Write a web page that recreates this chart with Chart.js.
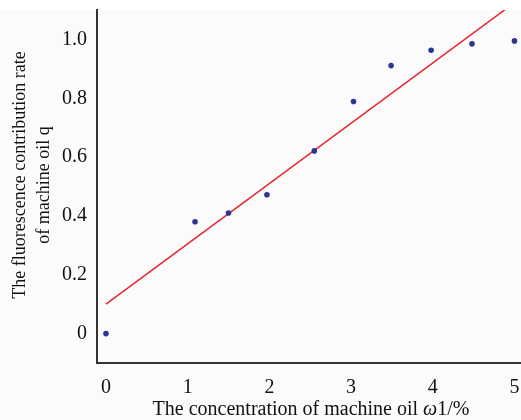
<!DOCTYPE html>
<html>
<head>
<meta charset="utf-8">
<script src="https://cdn.jsdelivr.net/npm/chart.js@4/dist/chart.umd.min.js"></script>
<style>
html,body{margin:0;padding:0;background:#fff;}
#wrap{width:521px;height:420px;position:relative;}
</style>
</head>
<body>
<div id="wrap"><canvas id="c" width="521" height="420"></canvas></div>
<script>
const concentration = [0, 1.09, 1.50, 1.97, 2.55, 3.03, 3.49, 3.98, 4.48, 5.00];
const contributionRate = [0.00, 0.38, 0.41, 0.472, 0.621, 0.789, 0.911, 0.963, 0.985, 0.995];
const fitX = [0, 5];
const fitY = [0.10, 1.125];
const xTicks = [0, 1, 2, 3, 4, 5];
const yTicks = [0, 0.2, 0.4, 0.6, 0.8, 1.0];
const yTitle = ['The fluorescence contribution rate', 'of machine oil q'];
const xTitleParts = ['The concentration of machine oil ', '\u03C9', '1/%'];

const serif = '"Liberation Serif", "Times New Roman", serif';

const bgPlugin = {
  id: 'bg',
  beforeDraw(chart) {
    const ctx = chart.ctx;
    ctx.save();
    ctx.fillStyle = '#fbfbfb';
    ctx.fillRect(0, 10, chart.width, chart.height - 10);
    ctx.restore();
  }
};

const titlePlugin = {
  id: 'titles',
  afterDraw(chart) {
    const ctx = chart.ctx;
    const area = chart.chartArea;
    ctx.save();
    ctx.fillStyle = '#111';
    const fonts = ['20px ' + serif, 'italic 20px ' + serif, '20px ' + serif];
    let total = 0;
    const widths = xTitleParts.map((t, i) => { ctx.font = fonts[i]; const w = ctx.measureText(t).width; total += w; return w; });
    let x = 311 - total / 2;
    ctx.textBaseline = 'alphabetic';
    ctx.textAlign = 'left';
    xTitleParts.forEach((t, i) => { ctx.font = fonts[i]; ctx.fillText(t, x, 415); x += widths[i]; });
    ctx.font = '18px ' + serif;
    ctx.textAlign = 'center';
    ctx.textBaseline = 'middle';
    const pos = [[20, 175], [44, 185]];
    yTitle.forEach((t, i) => {
      ctx.save();
      ctx.translate(pos[i][0], pos[i][1]);
      ctx.rotate(-Math.PI / 2);
      ctx.fillText(t, 0, 0);
      ctx.restore();
    });
    ctx.restore();
  }
};

new Chart(document.getElementById('c'), {
  type: 'scatter',
  data: {
    datasets: [
      {
        type: 'line',
        data: fitX.map((x, i) => ({x: x, y: fitY[i]})),
        borderColor: '#e8262a',
        borderWidth: 1.5,
        pointRadius: 0,
        fill: false,
        tension: 0,
        order: 2
      },
      {
        data: concentration.map((x, i) => ({x: x, y: contributionRate[i]})),
        backgroundColor: '#2b3592',
        borderColor: '#2b3592',
        pointRadius: 2.8,
        borderWidth: 0,
        order: 1
      }
    ]
  },
  options: {
    responsive: false,
    animation: false,
    devicePixelRatio: 1,
    layout: {autoPadding: false, padding: {top: 10, right: 0, left: 0, bottom: 0}},
    plugins: {legend: {display: false}, tooltip: {enabled: false}},
    scales: {
      x: {
        type: 'linear',
        min: -0.11,
        max: 5.08,
        afterBuildTicks(s) { s.ticks = xTicks.map(v => ({value: v})); },
        afterFit(s) { s.height = 57; s.paddingLeft = 0; s.paddingRight = 0; },
        ticks: {
          color: '#111',
          font: {family: serif, size: 20},
          padding: 8,
          maxRotation: 0,
          callback: v => String(v)
        },
        grid: {display: false, drawOnChartArea: false, drawTicks: true, tickLength: 5, tickColor: '#333', tickWidth: 1.5},
        border: {display: true, color: '#333', width: 2},
        title: {display: false}
      },
      y: {
        type: 'linear',
        min: -0.1,
        max: 1.1,
        afterBuildTicks(s) { s.ticks = yTicks.map(v => ({value: v})); },
        afterFit(s) { s.width = 97; s.paddingTop = 0; s.paddingBottom = 0; },
        ticks: {
          color: '#111',
          font: {family: serif, size: 20},
          padding: 5,
          callback: v => (v === 0 ? '0' : v.toFixed(1))
        },
        grid: {display: false, drawOnChartArea: false, drawTicks: true, tickLength: 5, tickColor: '#333', tickWidth: 1.5},
        border: {display: true, color: '#333', width: 2},
        title: {display: false}
      }
    }
  },
  plugins: [bgPlugin, titlePlugin]
});
</script>
</body>
</html>
